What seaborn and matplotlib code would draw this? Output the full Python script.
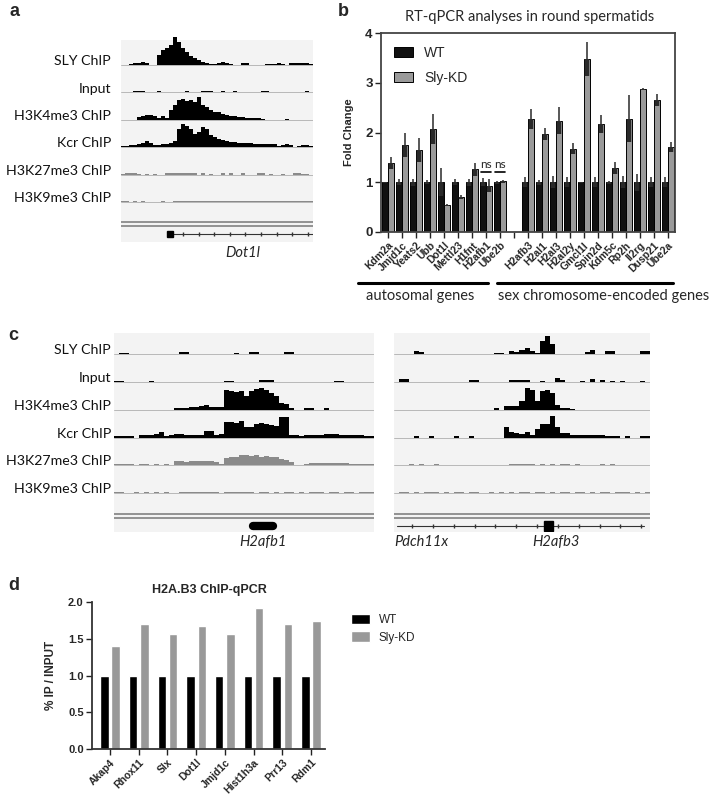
import numpy as np
import pandas as pd
import matplotlib.pyplot as plt
from matplotlib.patches import Patch, Rectangle
from matplotlib.lines import Line2D
import seaborn as sns

# ---------------- Data ----------------
# panel b: RT-qPCR fold change in round spermatids
auto_genes = ['Kdm2a', 'Jmjd1c', 'Yeats2', 'Ubb', 'Dot1l', 'Mettl23', 'H1fnt', 'H2afb1', 'Ube2b']
sex_genes = ['H2afb3', 'H2al1', 'H2al3', 'H2al2y', 'Gmcl1l', 'Spin2d', 'Kdm5c', 'Rp2h', 'Il2rg', 'Dusp21', 'Ube2a']
wt_fc = [1.0, 1.0, 1.0, 1.0, 1.0, 1.0, 1.0, 1.0, 1.0,
         1.0, 1.0, 1.0, 1.0, 1.0, 1.0, 1.0, 1.0, 1.0, 1.0, 1.0]
kd_fc = [1.38, 1.75, 1.65, 2.07, 0.54, 0.71, 1.26, 0.93, 1.02,
         2.27, 1.97, 2.24, 1.67, 3.48, 2.17, 1.29, 2.28, 2.88, 2.66, 1.70]
wt_err = [0.01, 0.06, 0.07, 0.04, 0.28, 0.06, 0.07, 0.08, 0.03,
          0.10, 0.05, 0.12, 0.10, 0.01, 0.10, 0.03, 0.12, 0.17, 0.10, 0.10]
kd_err = [0.12, 0.25, 0.24, 0.30, 0.02, 0.04, 0.13, 0.13, 0.03,
          0.20, 0.12, 0.27, 0.11, 0.34, 0.19, 0.12, 0.47, 0.02, 0.12, 0.10]

# panel d: H2A.B3 ChIP-qPCR
chip_genes = ['Akap4', 'Rhox11', 'Slx', 'Dot1l', 'Jmjd1c', 'Hist1h3a', 'Prr13', 'Rdm1']
chip_wt = [1.0, 1.0, 1.0, 1.0, 1.0, 1.0, 1.0, 1.0]
chip_kd = [1.40, 1.70, 1.57, 1.68, 1.56, 1.92, 1.70, 1.74]

# panels a / c: ChIP-seq coverage tracks (binned signal)
track_names = ['SLY ChIP', 'Input', 'H3K4me3 ChIP', 'Kcr ChIP', 'H3K27me3 ChIP', 'H3K9me3 ChIP']
track_colors = ['black', 'black', 'black', 'black', '#8a8a8a', '#8a8a8a']

dot1l_sly = [0,0,4,5,6,8,5,0, 0,30,45,50,60,85,70,50, 40,28,20,15,10,6,4,4, 6,8,7,4,0,0,5,5, 0,0,0,0,3,4,4,5, 4,0,5,5,6,6,6,4]
dot1l_input = [0,0,0,4,4,4,0,0, 0,4,0,0,0,0,0,0, 3,0,0,0,4,4,3,0, 0,4,0,0,4,0,0,0, 0,0,0,4,3,0,0,0, 0,0,0,0,0,0,3,0]
dot1l_k4 = [0,0,0,0,8,12,14,14, 10,6,12,4,30,45,60,62, 58,60,55,70,45,40,30,25, 22,18,15,12,10,8,8,6, 6,5,4,3,0,0,0,0, 0,3,0,0,0,0,0,0]
dot1l_kcr = [4,4,6,8,10,12,18,14, 6,8,10,10,12,20,55,70, 65,55,40,45,60,55,38,30, 25,22,18,16,15,14,13,12, 12,11,10,10,10,9,10,3, 8,10,6,0,5,6,6,5]
dot1l_k27 = [3,5,6,5,3,0,3,0, 3,0,0,4,5,6,6,6, 6,6,5,0,4,0,3,0, 0,4,0,5,0,0,4,0, 0,0,6,4,0,3,0,0, 3,0,0,5,4,3,3,0]
dot1l_k9 = [2,2,0,2,0,2,0,0, 0,0,2,0,0,2,2,2, 2,2,2,3,2,3,2,2, 2,2,2,2,3,2,2,2, 3,2,3,2,2,2,4,3, 2,2,3,2,2,2,2,2]

h2afb1_sly = [0,4,4,0,0,0,0,0,0,0, 0,0,0,6,6,0,0,0,0,0, 0,0,0,0,4,0,0,6,6,0, 0,0,0,0,6,6,0,0,0,0, 0,0,0,0,0,0,0,0,0,0, 0,0]
h2afb1_input = [4,4,0,0,0,0,0,3,0,0, 0,0,0,0,0,0,0,0,0,0, 0,0,4,4,0,0,0,0,0,5, 5,5,0,0,0,0,0,0,0,0, 0,0,0,0,4,4,0,0,0,0, 0,0]
h2afb1_k4 = [0,0,0,0,0,0,0,0,0,0, 0,0,5,5,6,8,8,10,14,8, 8,8,60,55,52,55,40,55,62,65, 58,50,40,20,18,6,0,0,4,4, 0,0,4,0,0,0,0,0,0,0, 0,0]
h2afb1_kcr = [5,5,4,4,0,6,6,8,10,15, 5,8,10,10,8,8,8,6,20,20, 8,10,45,45,42,50,30,30,40,42, 40,38,35,62,62,6,6,4,8,8, 8,6,10,10,10,8,8,6,8,8, 4,4]
h2afb1_k27 = [4,4,3,3,2,3,3,2,3,2, 3,2,14,14,10,12,12,13,12,14, 10,4,22,25,25,30,32,28,30,26, 28,25,24,20,15,10,0,0,5,6, 6,6,6,7,7,6,6,5,5,4, 4,3]
h2afb1_k9 = [2,2,0,0,3,0,2,0,2,0, 2,0,0,2,3,2,3,2,3,2, 2,0,2,3,2,2,3,2,0,2, 2,0,2,0,2,2,0,2,0,2, 2,2,0,2,2,0,2,2,0,2, 2,2]

h2afb3_sly = [0,0,0,0,10,6,0,0,0,0, 0,0,0,0,0,0,0,0,0,0, 4,4,0,8,6,12,18,8,4,40, 55,30,0,0,0,0,0,0,5,12, 0,0,8,8,0,0,0,0,0,10, 10]
h2afb3_input = [0,8,10,0,0,0,0,0,0,0, 0,0,0,0,0,5,5,0,0,0, 0,0,0,6,6,6,6,0,0,4, 0,0,12,6,0,0,0,4,0,8, 0,5,0,4,0,4,0,0,0,4, 0]
h2afb3_k4 = [0,0,0,0,0,0,0,0,0,0, 0,0,0,0,0,0,0,0,0,0, 4,0,10,12,12,25,65,60,25,55, 60,50,15,5,5,3,0,0,0,0, 0,0,0,0,0,0,0,0,0,0, 0]
h2afb3_kcr = [0,0,0,0,4,0,0,3,0,0, 0,0,3,0,0,4,0,0,0,0, 0,0,30,15,12,10,15,8,25,40, 40,65,30,12,12,8,8,6,6,6, 6,6,5,5,5,0,3,0,0,3, 3]
h2afb3_k27 = [2,0,2,3,0,3,0,2,3,0, 0,0,0,0,0,2,0,0,0,0, 0,2,2,3,3,4,4,3,2,4, 2,3,0,3,3,2,3,0,0,0, 2,3,2,3,2,0,2,0,0,2, 0]
h2afb3_k9 = [0,2,2,0,2,0,3,2,3,0, 2,0,2,2,0,2,2,0,0,2, 0,2,0,4,0,2,2,0,2,2, 0,2,0,2,2,0,2,2,0,2, 0,2,2,0,2,4,3,0,2,0, 2]

# ---------------- Figure ----------------
W, H = 717, 795
sns.set_theme(style='white')
plt.rcParams['font.family'] = ['Liberation Sans', 'DejaVu Sans']
fig = plt.figure(figsize=(W / 100, H / 100), dpi=100)


def box(l, t, r, b):
    return fig.add_axes([l / W, 1 - b / H, (r - l) / W, (b - t) / H])


def draw_tracks(ax, tracks, top, bottom, labels=True, label_x=None):
    n = len(tracks[0])
    ax.set_facecolor('#f3f3f3')
    for k, (vals, col) in enumerate(zip(tracks, track_colors)):
        base = -k
        y = base + np.array(vals, dtype=float) / 83
        ax.fill_between(np.arange(n + 1), base, np.append(y, y[-1]), step='post',
                        color=col, lw=0, clip_on=False, zorder=3)
        ax.axhline(base, color='#b8b8b8', lw=0.7, zorder=2)
        if labels:
            ax.text(label_x, base + 0.14, track_names[k], transform=ax.get_yaxis_transform(),
                    ha='right', va='center', fontsize=10.2, family='Lato', color='#111111')
    ax.axhline(-5.74, color='#8a8a8a', lw=1.3)
    ax.axhline(-5.89, color='#8a8a8a', lw=1.3)
    ax.set_xlim(0, n)
    ax.set_ylim(bottom, top)
    ax.set_xticks([])
    ax.set_yticks([])
    for s in ax.spines.values():
        s.set_visible(False)


# ---- panel a
axa = box(121, 40, 313, 242)
draw_tracks(axa, [dot1l_sly, dot1l_input, dot1l_k4, dot1l_kcr, dot1l_k27, dot1l_k9],
            0.91, -6.46, label_x=-10 / 192)
axa.add_patch(Rectangle((11.5, -6.27), 1.5, 0.22, color='black', zorder=4))
axa.plot([13, 48], [-6.17, -6.17], color='#333333', lw=0.8)
axa.plot(np.arange(15.5, 48, 3.9), np.full(len(np.arange(15.5, 48, 3.9)), -6.17),
         ls='none', marker='|', ms=3, color='#333333')
fig.text(243 / W, 1 - 253 / H, 'Dot1l', ha='center', va='center', fontsize=10.5,
         family='Lato', style='italic')

# ---- panel c
axcl = box(114, 333, 374, 532)
draw_tracks(axcl, [h2afb1_sly, h2afb1_input, h2afb1_k4, h2afb1_kcr, h2afb1_k27, h2afb1_k9],
            0.76, -6.40, label_x=-3 / 260)
axcl.plot([27.8, 31.8], [-6.2, -6.2], color='black', lw=6, solid_capstyle='round')
axcr = box(394, 333, 650, 532)
draw_tracks(axcr, [h2afb3_sly, h2afb3_input, h2afb3_k4, h2afb3_kcr, h2afb3_k27, h2afb3_k9],
            0.76, -6.40, labels=False)
axcr.plot([0.6, 49.8], [-6.2, -6.2], color='#333333', lw=0.8)
axcr.plot(np.arange(3.6, 50, 4.15), np.full(len(np.arange(3.6, 50, 4.15)), -6.2),
          ls='none', marker='|', ms=3, color='#333333')
axcr.add_patch(Rectangle((29.9, -6.36), 1.7, 0.34, color='black', zorder=4))
for x, name in [(263, 'H2afb1'), (421, 'Pdch11x'), (556, 'H2afb3')]:
    fig.text(x / W, 1 - 542 / H, name, ha='center', va='center', fontsize=10.5,
             family='Lato', style='italic')

# ---- panel b
genes = auto_genes + sex_genes
order = auto_genes + [' '] + sex_genes
df_b = pd.DataFrame({'gene': genes * 2, 'fc': wt_fc + kd_fc,
                     'cond': ['WT'] * len(genes) + ['Sly-KD'] * len(genes)})
axb = box(381, 33, 675, 232)
sns.barplot(data=df_b, x='gene', y='fc', hue='cond', order=order, hue_order=['WT', 'Sly-KD'],
            palette=['#111111', '#9a9a9a'], width=0.9, edgecolor='black', linewidth=0.7,
            errorbar=None, ax=axb)
err_lookup = {'WT': dict(zip(genes, wt_err)), 'Sly-KD': dict(zip(genes, kd_err))}
for cont, cond in zip(axb.containers, ['WT', 'Sly-KD']):
    for p in cont:
        h = p.get_height()
        if np.isnan(h):
            continue
        xc = p.get_x() + p.get_width() / 2
        g = order[int(round(xc))]
        e = err_lookup[cond][g]
        axb.errorbar(xc, h, yerr=[[e], [0]], fmt='none', ecolor='#2a2a2a', elinewidth=3.2, capsize=0, zorder=4)
        axb.errorbar(xc, h, yerr=[[0], [e]], fmt='none', ecolor='#2a2a2a', elinewidth=1.1, capsize=0, zorder=4)
for g in ['H2afb1', 'Ube2b']:
    i = order.index(g)
    axb.plot([i - 0.38, i + 0.38], [1.21, 1.21], color='black', lw=1.2)
    axb.text(i, 1.24, 'ns', ha='center', va='bottom', fontsize=8.5, family='Lato')
axb.set_xlim(-0.5, len(order) - 0.5)
axb.set_ylim(0, 4)
axb.set_yticks([0, 1, 2, 3, 4])
axb.set_yticklabels(['0', '1', '2', '3', '4'], fontsize=9.5, fontweight='bold')
axb.set_xticks(range(len(order)))
axb.set_xticklabels(order, rotation=45, ha='right', rotation_mode='anchor',
                    fontsize=7.5, fontweight='bold')
axb.tick_params(axis='both', bottom=True, left=True, direction='out', length=4,
                width=1, color='#222222', pad=2)
axb.set_xlabel('')
axb.set_ylabel('Fold Change', fontsize=8, fontweight='bold', labelpad=8)
for s in axb.spines.values():
    s.set_visible(True)
    s.set_color('#444444')
    s.set_linewidth(1.3)
axb.legend(loc='upper left', frameon=False, fontsize=10, handlelength=1.4,
           handleheight=0.7, labelspacing=0.8, borderaxespad=0.5)
fig.text(530 / W, 1 - 17 / H, 'RT-qPCR analyses in round spermatids', ha='center',
         va='center', fontsize=10.5, family='Lato')
fig.add_artist(Line2D([358 / W, 488 / W], [1 - 283 / H] * 2, color='black', lw=2.2))
fig.add_artist(Line2D([497 / W, 673 / W], [1 - 283 / H] * 2, color='black', lw=2.2))
fig.text(420 / W, 1 - 296 / H, 'autosomal genes', ha='center', va='center',
         fontsize=10.5, family='Lato')
fig.text(604 / W, 1 - 296 / H, 'sex chromosome-encoded genes', ha='center', va='center',
         fontsize=10.5, family='Lato')

# ---- panel d
df_d = pd.DataFrame({'gene': chip_genes * 2, 'val': chip_wt + chip_kd,
                     'cond': ['WT'] * len(chip_genes) + ['Sly-KD'] * len(chip_genes)})
axd = box(92, 602, 325, 749)
sns.barplot(data=df_d, x='gene', y='val', hue='cond', hue_order=['WT', 'Sly-KD'],
            palette=['black', '#999999'], width=0.78, gap=0.25, errorbar=None,
            legend=False, ax=axd)
axd.set_xlim(-0.63, 7.49)
axd.set_ylim(0, 2)
axd.set_yticks([0, 0.5, 1.0, 1.5, 2.0])
axd.set_yticklabels(['0.0', '0.5', '1.0', '1.5', '2.0'], fontsize=8, fontweight='bold')
axd.set_xticks(range(len(chip_genes)))
axd.set_xticklabels(chip_genes, rotation=45, ha='right', rotation_mode='anchor',
                    fontsize=7.5, fontweight='bold')
axd.tick_params(axis='both', bottom=True, left=True, direction='out', length=4,
                width=1, color='#222222', pad=2)
axd.set_xlabel('')
axd.set_ylabel('% IP / INPUT', fontsize=8.5, fontweight='bold', labelpad=8)
sns.despine(ax=axd)
for s in ['left', 'bottom']:
    axd.spines[s].set_color('#333333')
    axd.spines[s].set_linewidth(1.3)
fig.text(209 / W, 1 - 590 / H, 'H2A.B3 ChIP-qPCR', ha='center', va='center',
         fontsize=9, fontweight='bold')
fig.legend(handles=[Patch(facecolor='black'), Patch(facecolor='#999999')],
           labels=['WT', 'Sly-KD'], loc='upper left', bbox_to_anchor=(340 / W, 1 - 603 / H),
           frameon=False, fontsize=8.5, handlelength=1.6, handleheight=1.0, labelspacing=0.45)

# ---- panel letters
for x, y, t in [(10, 12, 'a'), (338, 12, 'b'), (8, 336, 'c'), (8, 585, 'd')]:
    fig.text(x / W, 1 - y / H, t, ha='left', va='center', fontsize=13, fontweight='bold')

fig.savefig('out.png', dpi=100)
